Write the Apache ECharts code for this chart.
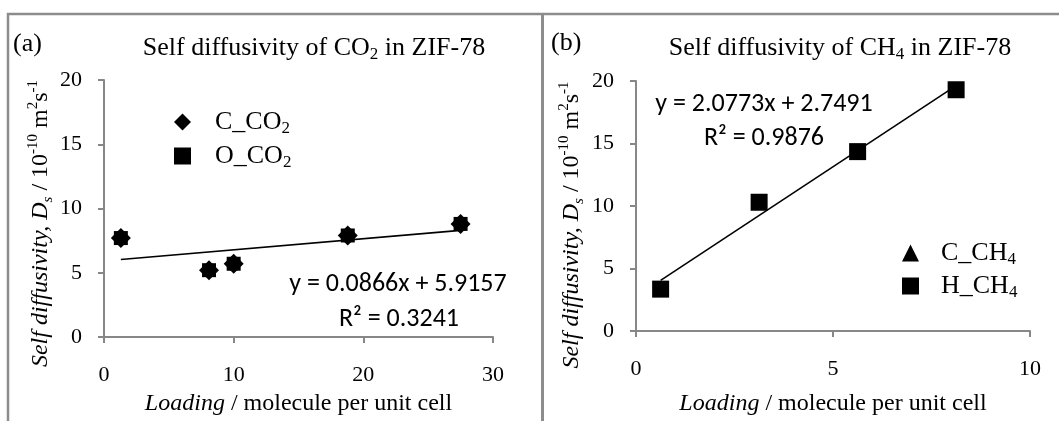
<!DOCTYPE html>
<html>
<head>
<meta charset="utf-8">
<script src="https://cdn.jsdelivr.net/npm/echarts@6/dist/echarts.min.js"></script>
<style>
  html, body { margin: 0; padding: 0; background: #fff; }
  #chart { width: 1059px; height: 421px; }
</style>
</head>
<body>
<div id="chart"></div>
<script>
// Panel (a): CO2 self diffusivity vs loading
const co2Loading = [1.3, 8.1, 10.0, 18.8, 27.5];
const co2CarbonDs = [7.7, 5.2, 5.7, 7.9, 8.8];
const co2OxygenDs = [7.7, 5.2, 5.7, 7.9, 8.8];
const co2Fit = [0.0866, 5.9157];   // slope, intercept
const co2R2 = '0.3241';

// Panel (b): CH4 self diffusivity vs loading
const ch4Loading = [0.625, 3.125, 5.625, 8.125];
const ch4CarbonDs = [3.35, 10.3, 14.35, 19.3];
const ch4HydrogenDs = [3.35, 10.3, 14.35, 19.3];
const ch4Fit = [2.0773, 2.7491];
const ch4R2 = '0.9876';

// Axis ranges: min, max, interval
const co2XRange = [0, 30, 10];
const ch4XRange = [0, 10, 5];
const dsRange = [0, 20, 5];

const SERIF = '"Liberation Serif", "Times New Roman", serif';
const SANS = 'Carlito, Lato, "Open Sans", sans-serif';
const AXIS_GRAY = '#878787';

const pairs = (xs, ys) => xs.map((x, i) => [x, ys[i]]);
const fitLine = (xs, fit) => {
  const lo = Math.min(...xs), hi = Math.max(...xs);
  return [[lo, fit[0] * lo + fit[1]], [hi, fit[0] * hi + fit[1]]];
};
const eqText = fit => 'y = ' + fit[0].toFixed(4) + 'x + ' + fit[1].toFixed(4);

const richAxis = {
  i:   { fontFamily: SERIF, fontSize: 24, fontStyle: 'italic', color: '#000', lineHeight: 30 },
  isub:{ fontFamily: SERIF, fontSize: 15, fontStyle: 'italic', color: '#000', lineHeight: 15, verticalAlign: 'bottom' },
  n:   { fontFamily: SERIF, fontSize: 24, color: '#000', lineHeight: 30 },
  sup: { fontFamily: SERIF, fontSize: 15, color: '#000', lineHeight: 15, verticalAlign: 'top' }
};
const yName = '{i|Self diffusivity, D}{isub|s}{n| / 10}{sup|-10}{n| m}{sup|2}{n|s}{sup|-1}';
const xName = '{i|Loading}{n| / molecule per unit cell}';

function makeX(idx, range, gap) {
  return {
    type: 'value', gridIndex: idx, min: range[0], max: range[1], interval: range[2],
    axisLine: { show: true, onZero: false, lineStyle: { color: AXIS_GRAY, width: 2 } },
    axisTick: { show: true, length: 6, lineStyle: { color: AXIS_GRAY, width: 2 } },
    splitLine: { show: false },
    axisLabel: { fontFamily: SERIF, fontSize: 22, color: '#000', margin: 27 },
    name: xName, nameLocation: 'middle', nameGap: gap,
    nameTextStyle: { rich: richAxis }
  };
}
function makeY(idx, gap, pad) {
  return {
    type: 'value', gridIndex: idx, min: dsRange[0], max: dsRange[1], interval: dsRange[2],
    axisLine: { show: true, onZero: false, lineStyle: { color: AXIS_GRAY, width: 2 } },
    axisTick: { show: true, length: 6, lineStyle: { color: AXIS_GRAY, width: 2 } },
    splitLine: { show: false },
    axisLabel: { fontFamily: SERIF, fontSize: 22, color: '#000', margin: 22 },
    name: yName, nameLocation: 'middle', nameGap: gap,
    nameTextStyle: { rich: richAxis, padding: [0, pad, 0, 0] }
  };
}

const legendRich = {
  n: { fontFamily: SERIF, fontSize: 26, color: '#000', lineHeight: 30 },
  s: { fontFamily: SERIF, fontSize: 17, color: '#000', lineHeight: 17, verticalAlign: 'bottom' }
};
const legendFmt = name => {
  const m = name.match(/^(.*?)(\d+)$/);
  return '{n|' + m[1] + '}{s|' + m[2] + '}';
};

const solid = { color: '#000', opacity: 1 };

const chart = echarts.init(document.getElementById('chart'), null, { renderer: 'canvas' });

chart.setOption({
  backgroundColor: '#fff',
  animation: false,
  grid: [
    { left: 104, top: 80, width: 389, height: 258 },
    { left: 636, top: 81, width: 394, height: 251 }
  ],
  xAxis: [makeX(0, co2XRange, 52), makeX(1, ch4XRange, 58)],
  yAxis: [makeY(0, 48, 30), makeY(1, 49, 38)],
  legend: [
    {
      orient: 'vertical', left: 174, top: 109, padding: 0,
      itemWidth: 17, itemHeight: 17, itemGap: 6,
      data: [{ name: 'C_CO2', icon: 'diamond' }, { name: 'O_CO2', icon: 'rect' }],
      formatter: legendFmt,
      itemStyle: { opacity: 1 },
      textStyle: { rich: legendRich, padding: [0, 0, 0, 19] }
    },
    {
      orient: 'vertical', left: 902, top: 240, padding: 0,
      itemWidth: 17, itemHeight: 17, itemGap: 5,
      data: [{ name: 'C_CH4', icon: 'triangle' }, { name: 'H_CH4', icon: 'rect' }],
      formatter: legendFmt,
      itemStyle: { opacity: 1 },
      textStyle: { rich: legendRich, padding: [0, 0, 0, 17] }
    }
  ],
  series: [
    {
      name: 'C_CO2', type: 'scatter', xAxisIndex: 0, yAxisIndex: 0,
      symbol: 'diamond', symbolSize: 20, itemStyle: solid, z: 2,
      data: pairs(co2Loading, co2CarbonDs)
    },
    {
      name: 'O_CO2', type: 'scatter', xAxisIndex: 0, yAxisIndex: 0,
      symbol: 'rect', symbolSize: 14, itemStyle: solid, z: 3,
      data: pairs(co2Loading, co2OxygenDs)
    },
    {
      name: 'CO2 fit', type: 'line', xAxisIndex: 0, yAxisIndex: 0,
      showSymbol: false, symbol: 'none', lineStyle: { color: '#000', width: 1.6 },
      data: fitLine(co2Loading, co2Fit), z: 4
    },
    {
      name: 'C_CH4', type: 'scatter', xAxisIndex: 1, yAxisIndex: 1,
      symbol: 'triangle', symbolSize: 13, itemStyle: solid, z: 2,
      data: pairs(ch4Loading, ch4CarbonDs)
    },
    {
      name: 'H_CH4', type: 'scatter', xAxisIndex: 1, yAxisIndex: 1,
      symbol: 'rect', symbolSize: 17, itemStyle: solid, z: 3,
      data: pairs(ch4Loading, ch4HydrogenDs)
    },
    {
      name: 'CH4 fit', type: 'line', xAxisIndex: 1, yAxisIndex: 1,
      showSymbol: false, symbol: 'none', lineStyle: { color: '#000', width: 1.6 },
      data: fitLine(ch4Loading, ch4Fit), z: 4
    }
  ],
  graphic: [
    // panel frames
    { type: 'polyline', shape: { points: [[8, 421], [8, 14], [1059, 14]] },
      style: { stroke: '#8c8c8c', lineWidth: 2.5, fill: null }, silent: true },
    { type: 'line', shape: { x1: 542.5, y1: 14, x2: 542.5, y2: 421 },
      style: { stroke: '#8c8c8c', lineWidth: 3 }, silent: true },
    // panel letters
    { type: 'text', x: 13, y: 44, style: { text: '(a)', font: '26px ' + SERIF, fill: '#000', textVerticalAlign: 'middle' } },
    { type: 'text', x: 551, y: 43, style: { text: '(b)', font: '26px ' + SERIF, fill: '#000', textVerticalAlign: 'middle' } },
    // panel titles
    { type: 'text', x: 314, y: 48, style: {
        text: '{t|Self diffusivity of CO}{s|2}{t| in ZIF-78}',
        align: 'center', verticalAlign: 'middle',
        rich: { t: { fontFamily: SERIF, fontSize: 26, fill: '#000', lineHeight: 30 },
                s: { fontFamily: SERIF, fontSize: 17, fill: '#000', lineHeight: 17, verticalAlign: 'bottom' } } } },
    { type: 'text', x: 840, y: 48, style: {
        text: '{t|Self diffusivity of CH}{s|4}{t| in ZIF-78}',
        align: 'center', verticalAlign: 'middle',
        rich: { t: { fontFamily: SERIF, fontSize: 26, fill: '#000', lineHeight: 30 },
                s: { fontFamily: SERIF, fontSize: 17, fill: '#000', lineHeight: 17, verticalAlign: 'bottom' } } } },
    // fit equations
    { type: 'text', x: 398, y: 284, style: { text: eqText(co2Fit), font: '26px ' + SANS, fill: '#000', align: 'center', verticalAlign: 'middle' } },
    { type: 'text', x: 399, y: 319, style: { text: 'R\u00b2 = ' + co2R2, font: '26px ' + SANS, fill: '#000', align: 'center', verticalAlign: 'middle' } },
    { type: 'text', x: 764, y: 104, style: { text: eqText(ch4Fit), font: '26px ' + SANS, fill: '#000', align: 'center', verticalAlign: 'middle' } },
    { type: 'text', x: 764, y: 138, style: { text: 'R\u00b2 = ' + ch4R2, font: '26px ' + SANS, fill: '#000', align: 'center', verticalAlign: 'middle' } }
  ]
});
</script>
</body>
</html>
